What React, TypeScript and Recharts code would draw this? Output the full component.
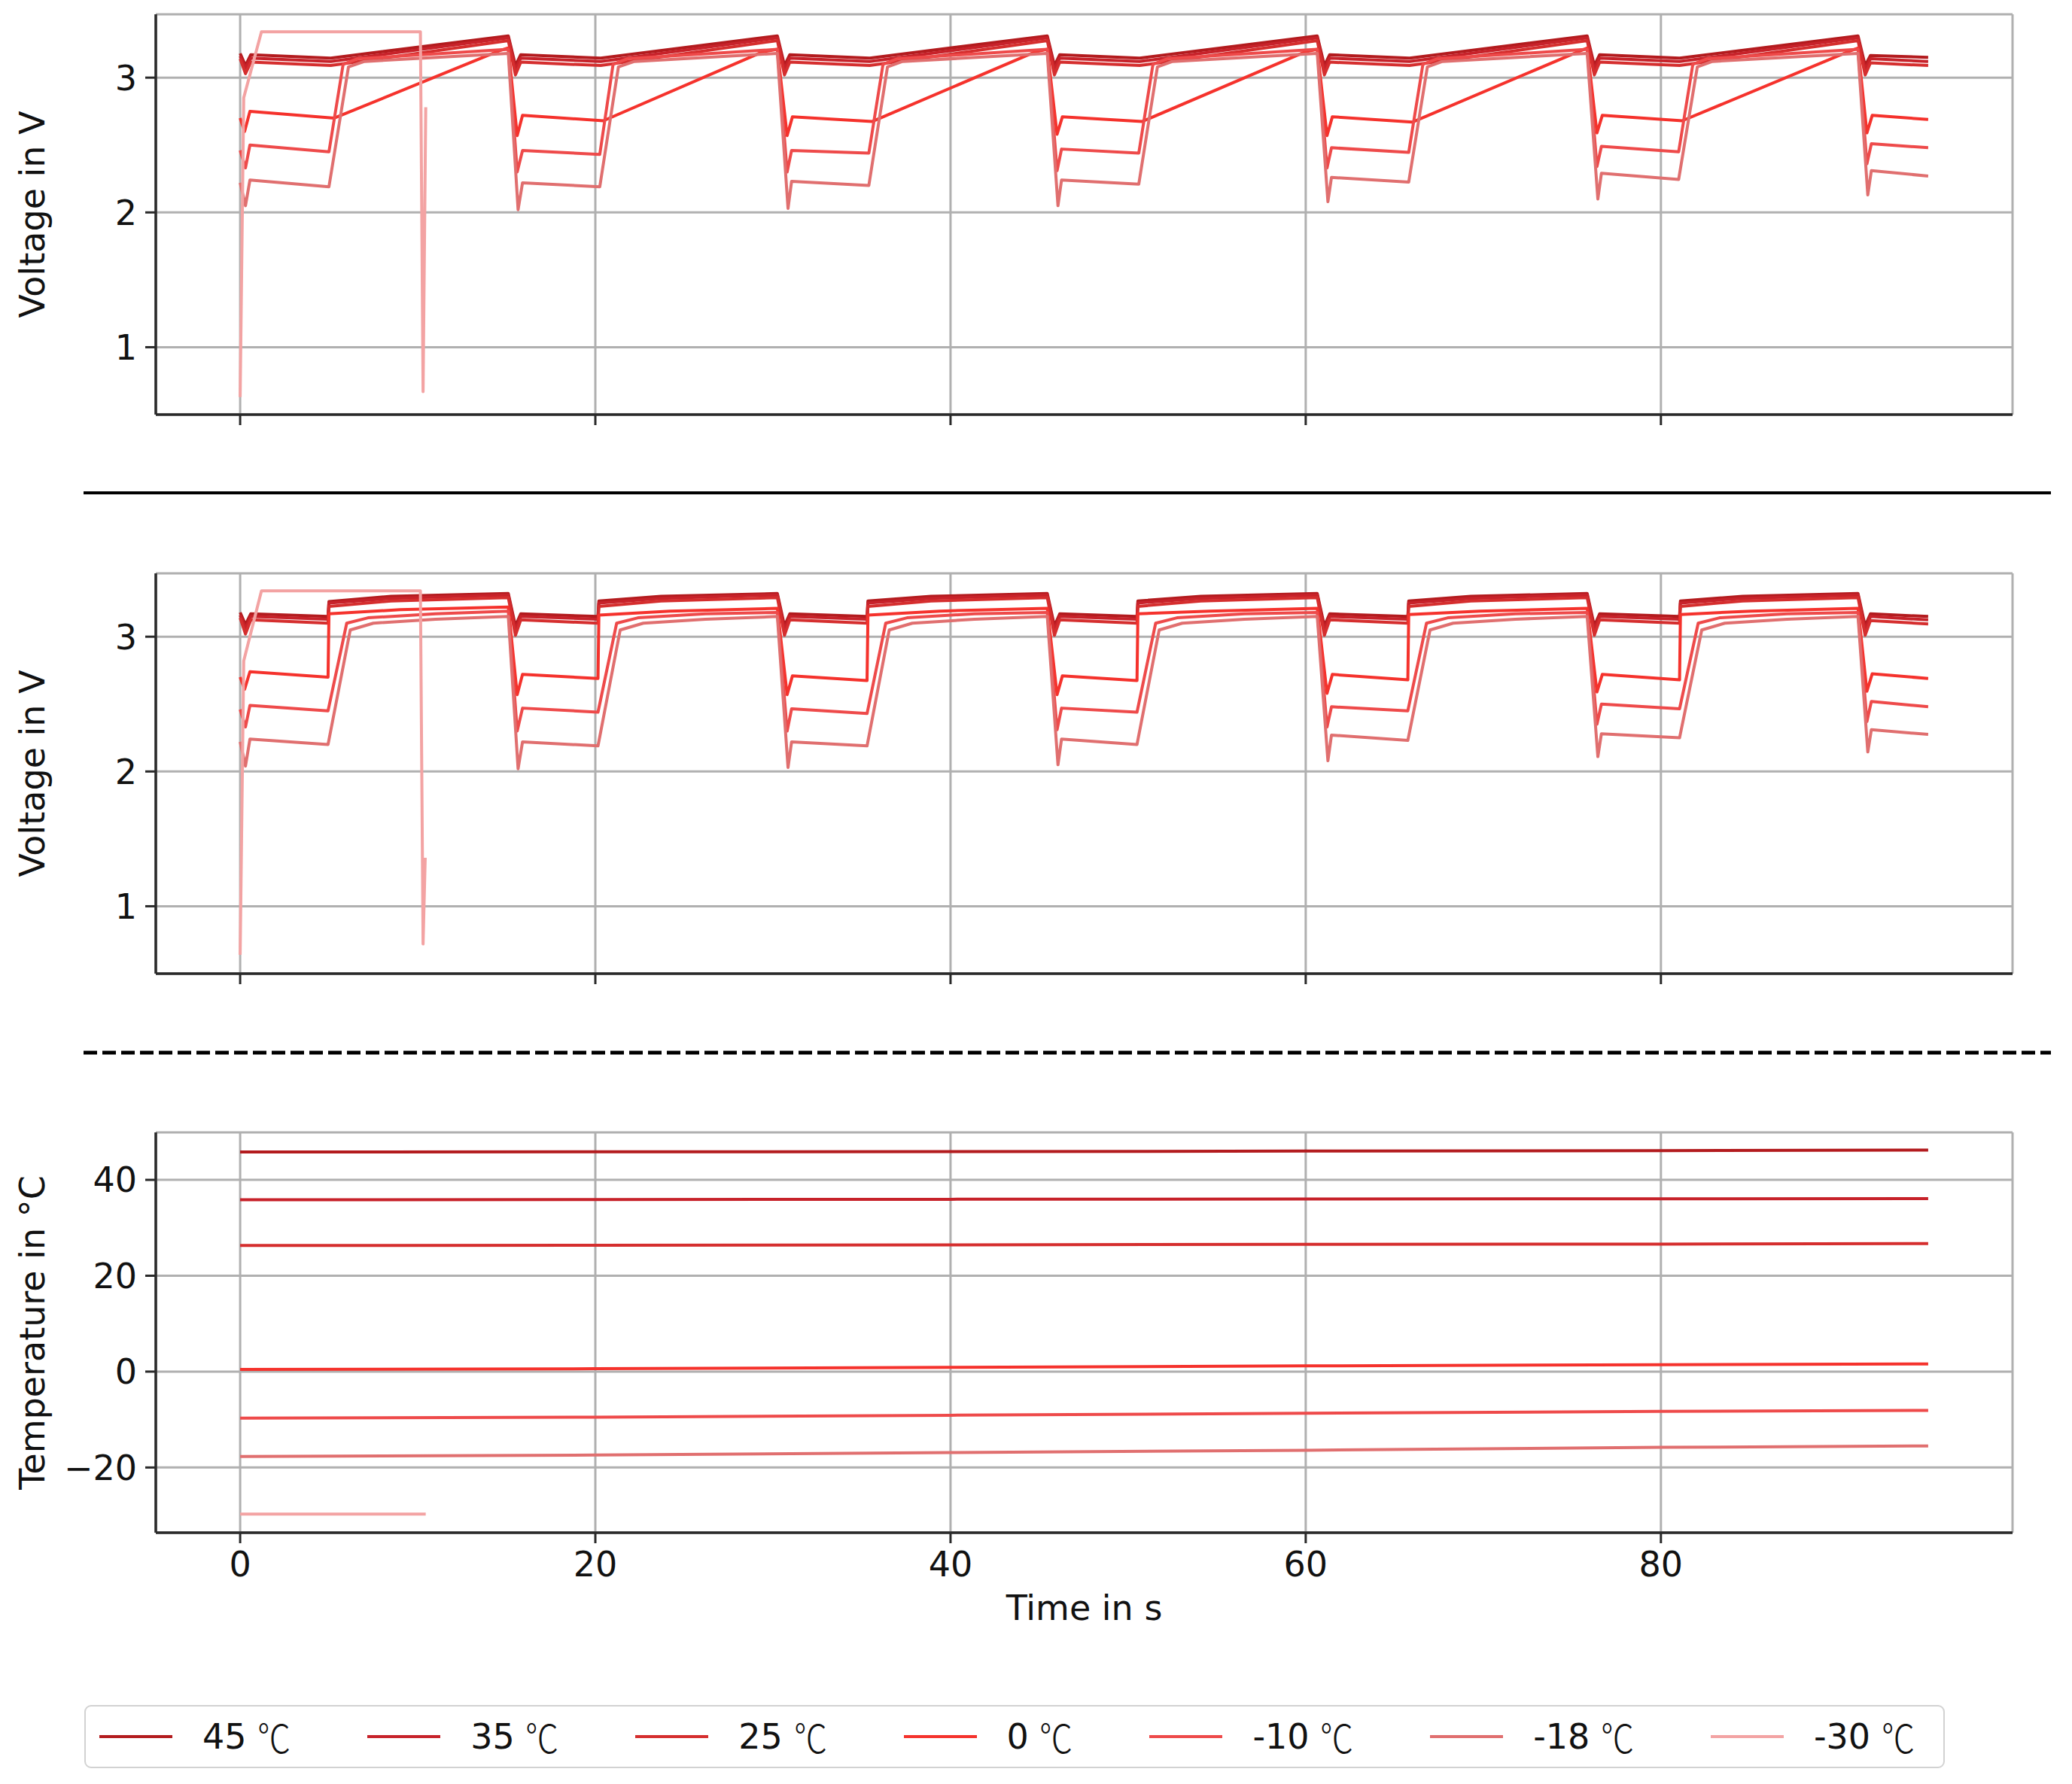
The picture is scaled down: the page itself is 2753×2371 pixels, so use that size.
import React from "react"
import { LineChart, Line, XAxis, YAxis, CartesianGrid } from "recharts"

// axes
const TIME_TICKS = [0, 20, 40, 60, 80]
const VOLT_TICKS = [1, 2, 3]
const TEMP_TICKS = [-20, 0, 20, 40]
const TIME_DOMAIN = [-4.75, 99.8]
const VOLT_DOMAIN = [0.5, 3.47]
const TEMP_DOMAIN = [-33.6, 49.9]

const SERIES_NAMES = ["45 ℃", "35 ℃", "25 ℃", "0 ℃", "-10 ℃", "-18 ℃", "-30 ℃"]
const SERIES_COLORS = ["#b31b1e", "#c7222a", "#d52e2e", "#f5322c", "#ee4a4a", "#e06f6f", "#f3a3a3"]

// upper panel: voltage, [time in s, voltage in V]
const P1_45 = [
  [0, 3.18], [0.3, 3.09], [0.6, 3.17], [5.1, 3.145], [15.1, 3.31],
  [15.5, 3.09], [15.8, 3.17], [20.3, 3.145], [30.25, 3.31],
  [30.65, 3.09], [30.95, 3.17], [35.45, 3.145], [45.45, 3.31],
  [45.85, 3.09], [46.15, 3.17], [50.65, 3.145], [60.65, 3.31],
  [61.05, 3.09], [61.35, 3.17], [65.85, 3.145], [75.85, 3.31],
  [76.25, 3.09], [76.55, 3.17], [81.05, 3.145], [91.1, 3.31],
  [91.5, 3.09], [91.8, 3.165], [95.05, 3.15],
]
const P1_35 = [
  [0, 3.16], [0.3, 3.07], [0.6, 3.145], [5.1, 3.12], [15.1, 3.295],
  [15.5, 3.06], [15.8, 3.145], [20.3, 3.12], [30.25, 3.295],
  [30.65, 3.06], [30.95, 3.145], [35.45, 3.12], [45.45, 3.295],
  [45.85, 3.06], [46.15, 3.145], [50.65, 3.12], [60.65, 3.295],
  [61.05, 3.06], [61.35, 3.145], [65.85, 3.12], [75.85, 3.295],
  [76.25, 3.06], [76.55, 3.145], [81.05, 3.12], [91.1, 3.295],
  [91.5, 3.06], [91.8, 3.14], [95.05, 3.12],
]
const P1_25 = [
  [0, 3.14], [0.3, 3.03], [0.6, 3.115], [5.1, 3.09], [15.1, 3.275],
  [15.5, 3.02], [15.8, 3.115], [20.3, 3.09], [30.25, 3.275],
  [30.65, 3.02], [30.95, 3.115], [35.45, 3.09], [45.45, 3.275],
  [45.85, 3.02], [46.15, 3.115], [50.65, 3.09], [60.65, 3.275],
  [61.05, 3.02], [61.35, 3.115], [65.85, 3.09], [75.85, 3.275],
  [76.25, 3.02], [76.55, 3.115], [81.05, 3.09], [91.1, 3.275],
  [91.5, 3.02], [91.8, 3.11], [95.05, 3.09],
]
const P1_0 = [
  [0, 2.7], [0.25, 2.6], [0.55, 2.75], [5.3, 2.7], [14.6, 3.2], [15.1, 3.22],
  [15.6, 2.57], [15.9, 2.72], [20.45, 2.68], [29.4, 3.19], [30.25, 3.21],
  [30.8, 2.57], [31.1, 2.71], [35.6, 2.675], [44.75, 3.19], [45.45, 3.21],
  [46.0, 2.58], [46.3, 2.71], [50.8, 2.675], [59.95, 3.19], [60.65, 3.21],
  [61.2, 2.57], [61.5, 2.71], [66.0, 2.67], [75.3, 3.19], [75.85, 3.22],
  [76.4, 2.59], [76.7, 2.72], [81.2, 2.68], [90.5, 3.19], [91.1, 3.22],
  [91.6, 2.59], [91.9, 2.72], [95.05, 2.69],
]
const P1_M10 = [
  [0, 2.46], [0.3, 2.33], [0.55, 2.5], [5.0, 2.45], [5.8, 3.1], [6.6, 3.14], [15.1, 3.21],
  [15.6, 2.3], [15.9, 2.46], [20.25, 2.43], [21.0, 3.1], [21.8, 3.14], [30.25, 3.21],
  [30.8, 2.3], [31.05, 2.46], [35.4, 2.44], [36.2, 3.1], [37.0, 3.14], [45.45, 3.21],
  [46.0, 2.31], [46.25, 2.47], [50.6, 2.44], [51.4, 3.1], [52.2, 3.14], [60.65, 3.21],
  [61.2, 2.33], [61.45, 2.48], [65.8, 2.445], [66.6, 3.1], [67.4, 3.14], [75.85, 3.21],
  [76.4, 2.34], [76.65, 2.49], [81.0, 2.45], [81.8, 3.1], [82.6, 3.14], [91.1, 3.21],
  [91.6, 2.36], [91.85, 2.51], [95.05, 2.48],
]
const P1_M18 = [
  [0, 2.22], [0.3, 2.05], [0.55, 2.24], [5.0, 2.19], [6.1, 3.08], [7.0, 3.12], [15.1, 3.18],
  [15.65, 2.02], [15.9, 2.22], [20.25, 2.19], [21.3, 3.08], [22.2, 3.12], [30.25, 3.18],
  [30.85, 2.03], [31.05, 2.23], [35.4, 2.2], [36.45, 3.08], [37.3, 3.12], [45.45, 3.18],
  [46.05, 2.05], [46.25, 2.24], [50.6, 2.21], [51.65, 3.08], [52.5, 3.12], [60.65, 3.18],
  [61.25, 2.08], [61.45, 2.26], [65.8, 2.225], [66.85, 3.08], [67.7, 3.12], [75.85, 3.18],
  [76.45, 2.1], [76.65, 2.29], [81.0, 2.245], [82.05, 3.08], [82.9, 3.12], [91.1, 3.18],
  [91.65, 2.13], [91.85, 2.31], [95.05, 2.27],
]
const P1_M30 = [
  [0, 0.63], [0.2, 2.85], [1.2, 3.34], [10.15, 3.34], [10.3, 0.67], [10.45, 2.78],
]

// middle panel: voltage, [time in s, voltage in V]
const P2_45 = [
  [0, 3.18], [0.3, 3.09], [0.6, 3.17], [4.95, 3.15], [5.0, 3.26], [8.5, 3.3], [15.1, 3.32],
  [15.5, 3.08], [15.8, 3.17], [20.15, 3.15], [20.2, 3.265], [23.7, 3.3], [30.25, 3.32],
  [30.65, 3.08], [30.95, 3.17], [35.3, 3.15], [35.35, 3.265], [38.9, 3.3], [45.45, 3.32],
  [45.85, 3.08], [46.15, 3.17], [50.5, 3.15], [50.55, 3.265], [54.1, 3.3], [60.65, 3.32],
  [61.05, 3.08], [61.35, 3.17], [65.75, 3.15], [65.8, 3.265], [69.3, 3.3], [75.85, 3.32],
  [76.25, 3.08], [76.55, 3.17], [81.05, 3.15], [81.1, 3.265], [84.6, 3.3], [91.1, 3.32],
  [91.5, 3.08], [91.8, 3.17], [95.05, 3.15],
]
const P2_35 = [
  [0, 3.16], [0.3, 3.06], [0.6, 3.15], [4.95, 3.13], [5.0, 3.25], [8.5, 3.285], [15.1, 3.31],
  [15.5, 3.05], [15.8, 3.15], [20.15, 3.13], [20.2, 3.25], [23.7, 3.285], [30.25, 3.31],
  [30.65, 3.05], [30.95, 3.15], [35.3, 3.13], [35.35, 3.25], [38.9, 3.285], [45.45, 3.31],
  [45.85, 3.05], [46.15, 3.15], [50.5, 3.13], [50.55, 3.25], [54.1, 3.285], [60.65, 3.31],
  [61.05, 3.05], [61.35, 3.15], [65.75, 3.13], [65.8, 3.25], [69.3, 3.285], [75.85, 3.31],
  [76.25, 3.05], [76.55, 3.15], [81.05, 3.13], [81.1, 3.25], [84.6, 3.285], [91.1, 3.31],
  [91.5, 3.05], [91.8, 3.15], [95.05, 3.125],
]
const P2_25 = [
  [0, 3.14], [0.3, 3.02], [0.6, 3.125], [4.95, 3.1], [5.0, 3.225], [8.5, 3.265], [15.1, 3.29],
  [15.5, 3.01], [15.8, 3.125], [20.15, 3.1], [20.2, 3.225], [23.7, 3.265], [30.25, 3.29],
  [30.65, 3.01], [30.95, 3.125], [35.3, 3.1], [35.35, 3.225], [38.9, 3.265], [45.45, 3.29],
  [45.85, 3.01], [46.15, 3.125], [50.5, 3.1], [50.55, 3.225], [54.1, 3.265], [60.65, 3.29],
  [61.05, 3.01], [61.35, 3.125], [65.75, 3.1], [65.8, 3.225], [69.3, 3.265], [75.85, 3.29],
  [76.25, 3.01], [76.55, 3.125], [81.05, 3.1], [81.1, 3.225], [84.6, 3.265], [91.1, 3.29],
  [91.5, 3.01], [91.8, 3.12], [95.05, 3.095],
]
const P2_0 = [
  [0, 2.7], [0.25, 2.61], [0.55, 2.74], [4.95, 2.7], [5.0, 3.17], [9.0, 3.2], [15.1, 3.22],
  [15.6, 2.57], [15.9, 2.72], [20.15, 2.69], [20.2, 3.16], [24.2, 3.19], [30.25, 3.21],
  [30.8, 2.57], [31.1, 2.71], [35.3, 2.675], [35.35, 3.16], [39.4, 3.19], [45.45, 3.21],
  [46.0, 2.57], [46.3, 2.71], [50.5, 2.675], [50.55, 3.17], [54.6, 3.19], [60.65, 3.21],
  [61.2, 2.58], [61.5, 2.72], [65.75, 2.68], [65.8, 3.165], [69.8, 3.19], [75.85, 3.21],
  [76.4, 2.59], [76.7, 2.72], [81.05, 2.68], [81.1, 3.165], [85.1, 3.19], [91.1, 3.21],
  [91.6, 2.595], [91.9, 2.725], [95.05, 2.69],
]
const P2_M10 = [
  [0, 2.46], [0.3, 2.33], [0.55, 2.49], [4.95, 2.45], [6.0, 3.1], [7.2, 3.14], [11.0, 3.17], [15.1, 3.19],
  [15.6, 2.3], [15.9, 2.47], [20.15, 2.44], [21.2, 3.1], [22.4, 3.14], [26.2, 3.17], [30.25, 3.18],
  [30.8, 2.3], [31.05, 2.465], [35.3, 2.43], [36.35, 3.1], [37.55, 3.14], [41.35, 3.17], [45.45, 3.18],
  [46.0, 2.31], [46.25, 2.47], [50.5, 2.44], [51.55, 3.1], [52.75, 3.14], [56.55, 3.17], [60.65, 3.18],
  [61.2, 2.33], [61.45, 2.48], [65.75, 2.45], [66.8, 3.1], [68.0, 3.14], [71.8, 3.17], [75.85, 3.18],
  [76.4, 2.35], [76.65, 2.5], [81.05, 2.465], [82.1, 3.1], [83.3, 3.14], [87.1, 3.17], [91.1, 3.18],
  [91.6, 2.37], [91.85, 2.52], [95.05, 2.48],
]
const P2_M18 = [
  [0, 2.22], [0.3, 2.04], [0.55, 2.24], [4.95, 2.2], [6.2, 3.05], [7.5, 3.1], [11.0, 3.13], [15.1, 3.15],
  [15.65, 2.02], [15.9, 2.22], [20.15, 2.19], [21.4, 3.05], [22.7, 3.1], [26.2, 3.13], [30.25, 3.15],
  [30.85, 2.03], [31.05, 2.22], [35.3, 2.19], [36.55, 3.05], [37.85, 3.1], [41.35, 3.13], [45.45, 3.15],
  [46.05, 2.05], [46.25, 2.24], [50.5, 2.2], [51.75, 3.05], [53.05, 3.1], [56.55, 3.13], [60.65, 3.15],
  [61.25, 2.08], [61.45, 2.27], [65.75, 2.23], [67.0, 3.05], [68.3, 3.1], [71.8, 3.13], [75.85, 3.15],
  [76.45, 2.11], [76.65, 2.28], [81.05, 2.25], [82.3, 3.05], [83.6, 3.1], [87.1, 3.13], [91.1, 3.15],
  [91.65, 2.145], [91.85, 2.31], [95.05, 2.275],
]
const P2_M30 = [
  [0, 0.64], [0.2, 2.82], [1.2, 3.34], [10.15, 3.34], [10.3, 0.72], [10.42, 1.36],
]

// lower panel: temperature, [time in s, temperature in °C]
const T_45 = [[0, 45.8], [20, 45.85], [40, 45.9], [60, 46.0], [80, 46.1], [95.05, 46.2]]
const T_35 = [[0, 35.85], [20, 35.9], [40, 35.95], [60, 36.0], [80, 36.05], [95.05, 36.1]]
const T_25 = [[0, 26.3], [20, 26.35], [40, 26.45], [60, 26.55], [80, 26.6], [95.05, 26.7]]
const T_0 = [[0, 0.45], [20, 0.6], [40, 0.9], [60, 1.2], [80, 1.45], [95.05, 1.6]]
const T_M10 = [[0, -9.7], [20, -9.5], [40, -9.1], [60, -8.7], [80, -8.3], [95.05, -8.1]]
const T_M18 = [[0, -17.7], [20, -17.4], [40, -16.9], [60, -16.4], [80, -15.8], [95.05, -15.5]]
const T_M30 = [[0, -29.7], [10.45, -29.7]]

const W = 2753
const PLOT_TOP = 19
const PLOT_H = 532
const FONT = "DejaVu Sans"
const INK = "#111"
const SPINE = "#2a2a2a"
const GRID = "#b0b0b0"

const toPoints = (pairs: number[][]) => pairs.map(([t, v]) => ({ t, v }))
const minusFmt = (v: number) => (v < 0 ? `\u2212${-v}` : `${v}`)

type PanelProps = {
  top: number
  height: number
  series: number[][][]
  domain: number[]
  ticks: number[]
  yLabel: string
  last?: boolean
  yFmt?: (v: number) => string
}

function Panel({ top, height, series, domain, ticks, yLabel, last, yFmt }: PanelProps) {
  const xAxisH = 60
  const tickFont = { fill: INK, fontSize: 46, fontFamily: FONT }
  const cy = PLOT_TOP + PLOT_H / 2
  return (
    <div style={{ position: "absolute", left: 0, top }}>
      <LineChart
        width={W}
        height={height}
        margin={{ top: PLOT_TOP, right: 79, bottom: height - PLOT_TOP - PLOT_H - xAxisH, left: 0 }}
      >
        <CartesianGrid stroke={GRID} strokeWidth={3} />
        <XAxis
          dataKey="t"
          type="number"
          domain={TIME_DOMAIN}
          allowDataOverflow
          ticks={TIME_TICKS}
          height={xAxisH}
          tickSize={14}
          tickMargin={11}
          axisLine={{ stroke: SPINE, strokeWidth: 3.5 }}
          tickLine={{ stroke: SPINE, strokeWidth: 3 }}
          tick={tickFont}
          tickFormatter={last ? (v: number) => `${v}` : () => ""}
          label={
            last
              ? { value: "Time in s", position: "bottom", offset: 23, fill: INK, fontSize: 46, fontFamily: FONT }
              : undefined
          }
        />
        <XAxis
          xAxisId="top"
          orientation="top"
          dataKey="t"
          type="number"
          domain={TIME_DOMAIN}
          allowDataOverflow
          height={0}
          tick={false}
          tickLine={false}
          axisLine={{ stroke: SPINE, strokeWidth: 3.5 }}
        />
        <YAxis
          dataKey="v"
          type="number"
          domain={domain}
          allowDataOverflow
          ticks={ticks}
          width={207}
          tickSize={14}
          tickMargin={11}
          axisLine={{ stroke: SPINE, strokeWidth: 3.5 }}
          tickLine={{ stroke: SPINE, strokeWidth: 3 }}
          tick={tickFont}
          tickFormatter={yFmt || ((v: number) => `${v}`)}
          label={{
            position: "insideLeft",
            content: () => (
              <text
                x={59}
                y={cy}
                transform={`rotate(-90 59 ${cy})`}
                textAnchor="middle"
                fontSize={46}
                fontFamily={FONT}
                fill={INK}
              >
                {yLabel}
              </text>
            ),
          }}
        />
        <YAxis
          yAxisId="right"
          orientation="right"
          dataKey="v"
          type="number"
          domain={domain}
          allowDataOverflow
          width={0}
          tick={false}
          tickLine={false}
          axisLine={{ stroke: SPINE, strokeWidth: 3.5 }}
        />
        {series.map((s, i) => (
          <Line
            key={SERIES_NAMES[i]}
            name={SERIES_NAMES[i]}
            data={toPoints(s)}
            dataKey="v"
            type="linear"
            stroke={SERIES_COLORS[i]}
            strokeWidth={4}
            strokeLinejoin="round"
            dot={false}
            activeDot={false}
            isAnimationActive={false}
          />
        ))}
      </LineChart>
    </div>
  )
}

function LegendBox() {
  return (
    <div
      style={{
        position: "absolute",
        left: 112,
        top: 2266,
        width: 2472,
        height: 84,
        boxSizing: "border-box",
        border: "2.5px solid #d2d2d2",
        borderRadius: 9,
        background: "#fff",
        display: "flex",
        alignItems: "center",
        paddingLeft: 18,
        gap: 102,
        fontFamily: FONT,
        fontSize: 46,
        color: INK,
        whiteSpace: "nowrap",
      }}
    >
      {SERIES_NAMES.map((name, i) => {
        const [num, unit] = name.split(" ")
        return (
          <div key={name} style={{ display: "flex", alignItems: "center" }}>
            <div style={{ width: 97, height: 4, background: SERIES_COLORS[i], marginRight: 40 }} />
            <span>{num}&nbsp;</span>
            <span
              style={{
                display: "inline-block",
                width: 44,
                fontFamily: "Noto Sans CJK SC",
                fontSize: 52,
                fontWeight: 300,
                lineHeight: 1,
                transform: "scaleX(0.85)",
                transformOrigin: "left center",
              }}
            >
              {unit}
            </span>
          </div>
        )
      })}
    </div>
  )
}

export default function App() {
  return (
    <div style={{ position: "absolute", left: 0, top: 0, width: W, height: 2371, background: "#fff", overflow: "hidden" }}>
      <Panel
        top={0}
        height={640}
        series={[P1_45, P1_35, P1_25, P1_0, P1_M10, P1_M18, P1_M30]}
        domain={VOLT_DOMAIN}
        ticks={VOLT_TICKS}
        yLabel="Voltage in V"
      />
      <Panel
        top={743}
        height={640}
        series={[P2_45, P2_35, P2_25, P2_0, P2_M10, P2_M18, P2_M30]}
        domain={VOLT_DOMAIN}
        ticks={VOLT_TICKS}
        yLabel="Voltage in V"
      />
      <Panel
        top={1486}
        height={760}
        series={[T_45, T_35, T_25, T_0, T_M10, T_M18, T_M30]}
        domain={TEMP_DOMAIN}
        ticks={TEMP_TICKS}
        yLabel="Temperature in °C"
        last
        yFmt={minusFmt}
      />
      <svg width={W} height={2371} style={{ position: "absolute", left: 0, top: 0, pointerEvents: "none" }}>
        <line x1={111} x2={2725} y1={655} y2={655} stroke="#000" strokeWidth={4} />
        <line x1={111} x2={2725} y1={1399} y2={1399} stroke="#000" strokeWidth={5} strokeDasharray="18 7" />
      </svg>
      <LegendBox />
    </div>
  )
}
